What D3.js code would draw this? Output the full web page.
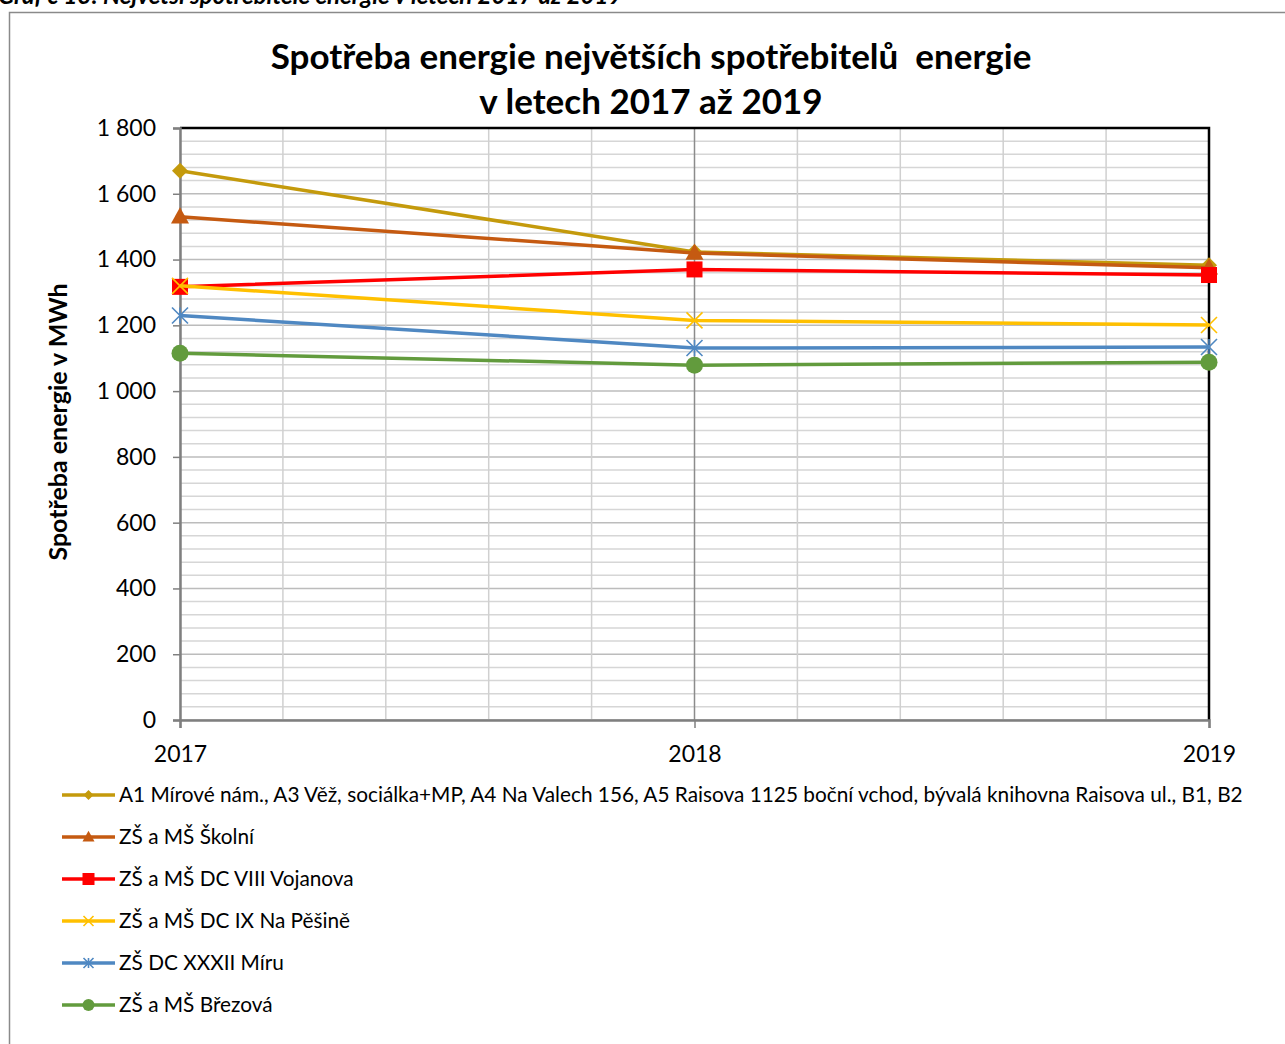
<!DOCTYPE html>
<html>
<head>
<meta charset="utf-8">
<script src="https://cdn.jsdelivr.net/npm/d3@7"></script>
<style>
  body { margin: 0; background: #fff; }
  text { font-family: Lato, "Open Sans", sans-serif; fill: #000; }
</style>
</head>
<body>
<div id="output"></div>
<script>
// data
var years = [2017, 2018, 2019];
var seriesNames = [
    "A1 Mírové nám., A3 Věž, sociálka+MP, A4 Na Valech 156, A5 Raisova 1125 boční vchod, bývalá knihovna Raisova ul., B1, B2",
    "ZŠ a MŠ Školní",
    "ZŠ a MŠ DC VIII Vojanova",
    "ZŠ a MŠ DC IX Na Pěšině",
    "ZŠ DC XXXII Míru",
    "ZŠ a MŠ Březová"
];
var a1Values = [1670, 1423, 1383];
var skolniValues = [1530, 1420, 1375];
var vojanovaValues = [1317, 1370, 1353];
var pesineValues = [1320, 1215, 1201];
var miruValues = [1230, 1131, 1134];
var brezovaValues = [1115, 1079, 1088];
var yTicks = [0, 200, 400, 600, 800, 1000, 1200, 1400, 1600, 1800];

var colors = ["#C49A0C", "#C55A11", "#FF0000", "#FFC000", "#4F88C2", "#629B3D"];
var markers = ["diamond", "triangle", "square", "x", "star", "circle"];
var allValues = [a1Values, skolniValues, vojanovaValues, pesineValues, miruValues, brezovaValues];

var w = 1285, h = 1044;
var plot = {left: 180, right: 1209, top: 128, bottom: 720};

var svg = d3.select("#output").append("svg")
    .attr("width", w)
    .attr("height", h);

// caption, cut off at the top as in the source
svg.append("text")
    .attr("x", -2)
    .attr("y", 4)
    .attr("font-size", 24)
    .attr("font-weight", "bold")
    .attr("font-style", "italic")
    .text("Graf č 13: Největší spotřebitelé energie v letech 2017 až 2019");

// chart frame
svg.append("rect")
    .attr("x", 9.5).attr("y", 12.5)
    .attr("width", 1300).attr("height", 1100)
    .attr("fill", "none")
    .attr("stroke", "#8a8a8a")
    .attr("stroke-width", 1.5);

var x = d3.scaleLinear().domain([2017, 2019]).range([plot.left, plot.right]);
var y = d3.scaleLinear().domain([0, 1800]).range([plot.bottom, plot.top]);

// horizontal grid (minor every 40, major every 200)
var gy = d3.range(0, 1801, 40);
svg.append("g").selectAll("line")
    .data(gy)
    .enter().append("line")
    .attr("x1", plot.left).attr("x2", plot.right)
    .attr("y1", function (d) { return y(d); })
    .attr("y2", function (d) { return y(d); })
    .attr("stroke", function (d) { return d % 200 == 0 ? "#bcbcbc" : "#d6d6d6"; })
    .attr("stroke-width", 1.5);

// vertical grid
var gx = d3.range(0, 11).map(function (i) { return 2017 + i * 0.2; });
svg.append("g").selectAll("line")
    .data(gx)
    .enter().append("line")
    .attr("x1", function (d) { return x(d); })
    .attr("x2", function (d) { return x(d); })
    .attr("y1", plot.top).attr("y2", plot.bottom)
    .attr("stroke", function (d, i) { return i == 5 ? "#8c8c8c" : "#d0d0d0"; })
    .attr("stroke-width", 1.5);

// plot border top / right
svg.append("path")
    .attr("d", "M" + plot.left + "," + plot.top + "H" + plot.right + "V" + plot.bottom)
    .attr("fill", "none")
    .attr("stroke", "#000")
    .attr("stroke-width", 2.5);

// y axis
var yAxis = d3.axisLeft(y).tickValues(yTicks).tickSize(7).tickPadding(17)
    .tickFormat(function (d) { return d3.format(",")(d).replace(",", " "); });
var gY = svg.append("g")
    .attr("transform", "translate(" + plot.left + ",0)")
    .call(yAxis);
gY.select(".domain").attr("stroke", "#7f7f7f").attr("stroke-width", 2.5);
gY.selectAll(".tick line").attr("stroke", "#7f7f7f").attr("stroke-width", 1.5);
gY.selectAll(".tick text").attr("font-size", 23).attr("font-family", "Lato").attr("fill", "#000");

// x axis
var xAxis = d3.axisBottom(x).tickValues(years).tickSize(8).tickPadding(18)
    .tickFormat(d3.format("d"));
var gX = svg.append("g")
    .attr("transform", "translate(0," + plot.bottom + ")")
    .call(xAxis);
gX.select(".domain").attr("stroke", "#7f7f7f").attr("stroke-width", 2.5);
gX.selectAll(".tick line").attr("stroke", "#7f7f7f").attr("stroke-width", 1.5);
gX.selectAll(".tick text").attr("font-size", 23).attr("font-family", "Lato").attr("fill", "#000");

// title
svg.append("text")
    .attr("x", 651).attr("y", 69)
    .attr("text-anchor", "middle")
    .attr("font-size", 35)
    .attr("font-weight", "bold")
    .text("Spotřeba energie největších spotřebitelů\u00a0 energie");
svg.append("text")
    .attr("x", 651).attr("y", 114)
    .attr("text-anchor", "middle")
    .attr("font-size", 35)
    .attr("font-weight", "bold")
    .text("v letech 2017 až 2019");

// y axis title
svg.append("text")
    .attr("transform", "translate(67,422) rotate(-90)")
    .attr("text-anchor", "middle")
    .attr("font-size", 25)
    .attr("font-weight", "bold")
    .text("Spotřeba energie v MWh");

function drawMarker(g, type, cx, cy, color, s) {
    if (type == "diamond") {
        g.append("path")
            .attr("d", "M" + cx + "," + (cy - s) + "L" + (cx + s) + "," + cy + "L" + cx + "," + (cy + s) + "L" + (cx - s) + "," + cy + "Z")
            .attr("fill", color);
    } else if (type == "triangle") {
        g.append("path")
            .attr("d", "M" + cx + "," + (cy - s * 1.05) + "L" + (cx + s) + "," + (cy + s * 0.75) + "L" + (cx - s) + "," + (cy + s * 0.75) + "Z")
            .attr("fill", color);
    } else if (type == "square") {
        g.append("rect")
            .attr("x", cx - s).attr("y", cy - s)
            .attr("width", 2 * s).attr("height", 2 * s)
            .attr("fill", color);
    } else if (type == "x") {
        g.append("path")
            .attr("d", "M" + (cx - s) + "," + (cy - s) + "L" + (cx + s) + "," + (cy + s) + "M" + (cx - s) + "," + (cy + s) + "L" + (cx + s) + "," + (cy - s))
            .attr("stroke", color).attr("stroke-width", 1.6).attr("fill", "none");
    } else if (type == "star") {
        g.append("path")
            .attr("d", "M" + (cx - s) + "," + (cy - s) + "L" + (cx + s) + "," + (cy + s) + "M" + (cx - s) + "," + (cy + s) + "L" + (cx + s) + "," + (cy - s) +
                "M" + cx + "," + (cy - s) + "L" + cx + "," + (cy + s))
            .attr("stroke", color).attr("stroke-width", 1.6).attr("fill", "none");
    } else if (type == "circle") {
        g.append("circle")
            .attr("cx", cx).attr("cy", cy).attr("r", s)
            .attr("fill", color);
    }
}

var markerSize = [8, 9, 8, 8, 8, 8.5];
var legendSize = [5, 6, 6, 5, 5, 6];

var line = d3.line()
    .x(function (d, i) { return x(years[i]); })
    .y(function (d) { return y(d); });

allValues.forEach(function (vals, k) {
    var g = svg.append("g");
    g.append("path")
        .datum(vals)
        .attr("d", line)
        .attr("fill", "none")
        .attr("stroke", colors[k])
        .attr("stroke-width", 3.5);
    vals.forEach(function (v, i) {
        drawMarker(g, markers[k], x(years[i]), y(v), colors[k], markerSize[k]);
    });
});

// legend
var legend = svg.append("g");
seriesNames.forEach(function (name, k) {
    var ly = 795 + k * 42;
    legend.append("line")
        .attr("x1", 62).attr("x2", 115)
        .attr("y1", ly).attr("y2", ly)
        .attr("stroke", colors[k])
        .attr("stroke-width", 3.5);
    drawMarker(legend, markers[k], 88.5, ly, colors[k], legendSize[k]);
    legend.append("text")
        .attr("x", 119).attr("y", ly + 7)
        .attr("font-size", 20.8)
        .text(name);
});
</script>
</body>
</html>
